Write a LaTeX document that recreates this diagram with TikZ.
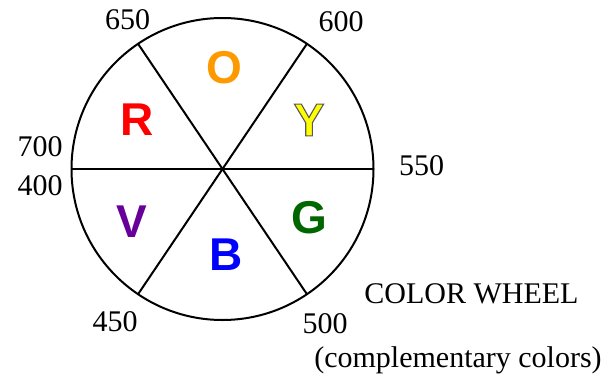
\documentclass[tikz,border=0pt]{standalone}
\usepackage{fontspec}
\setmainfont{Liberation Serif}
\newfontfamily\wheelsans{Liberation Sans}
\usetikzlibrary{calc}
\definecolor{cOrange}{HTML}{FF9900}
\definecolor{cRed}{HTML}{FF0000}
\definecolor{cYellow}{HTML}{FFFF00}
\definecolor{cViolet}{HTML}{660099}
\definecolor{cBlue}{HTML}{0000FF}
\definecolor{cGreen}{HTML}{006600}
\newcommand\outlinedY{\textcolor{cYellow}{\special{pdf:code q 2 Tr 1.1 w 0.35 0.35 0.35 RG}Y\special{pdf:code Q}}}
\tikzset{
  wheelline/.style={line width=2pt, black},
  numlabel/.style={font=\fontsize{30}{34}\selectfont, inner sep=0pt, anchor=center},
  huelabel/.style={font=\wheelsans\bfseries\fontsize{46}{50}\selectfont, inner sep=0pt, anchor=center},
}
\begin{document}
\begin{tikzpicture}[x=1pt,y=-1pt]
\useasboundingbox (0,0) rectangle (613,391);
\coordinate (c) at (222.5,169);
\draw[wheelline] (c) circle[radius=151];
\coordinate (eL) at ($(c)+(180:151)$);
\coordinate (eR) at ($(c)+(0:151)$);
\coordinate (eUL) at ($(c)+(236:151)$);
\coordinate (eUR) at ($(c)+(304:151)$);
\coordinate (eLL) at ($(c)+(124:151)$);
\coordinate (eLR) at ($(c)+(56:151)$);
\draw[wheelline] (eL) -- (eR);
\draw[wheelline] (eUL) -- (eLR);
\draw[wheelline] (eUR) -- (eLL);
% hue letters
\node[huelabel, text=cOrange] (O) at (224,68) {O};
\node[huelabel, text=cRed] (R) at (137,120) {R};
\node[huelabel] (Y) at (309,120) {\outlinedY};
\node[huelabel, text=cViolet] (V) at (132,222) {V};
\node[huelabel, text=cBlue] (B) at (226,255) {B};
\node[huelabel, text=cGreen] (G) at (309,218) {G};
% wavelength labels
\node[numlabel] (n650) at (127.5,20) {650};
\node[numlabel] (n600) at (341,22) {600};
\node[numlabel] (n700) at (40,147) {700};
\node[numlabel] (n400) at (40,186) {400};
\node[numlabel] (n550) at (421.5,166) {550};
\node[numlabel] (n450) at (115,322) {450};
\node[numlabel] (n500) at (325,324) {500};
\node[numlabel] (title) at (471.5,294) {COLOR WHEEL};
\node[numlabel] (sub) at (458,360) {(complementary colors)};
\end{tikzpicture}
\end{document}
